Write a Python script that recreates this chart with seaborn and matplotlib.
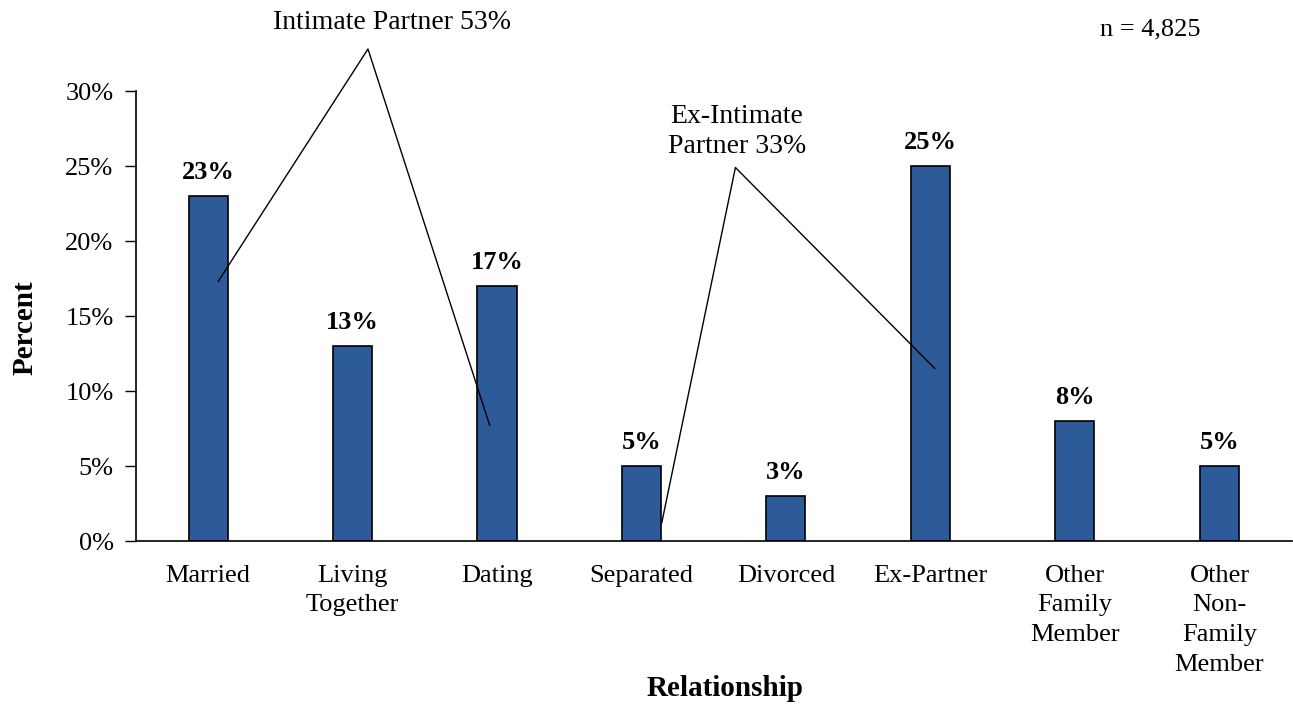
import matplotlib
matplotlib.use("Agg")
import matplotlib.pyplot as plt
import seaborn as sns
import pandas as pd
import numpy as np

categories = ["Married", "Living\nTogether", "Dating", "Separated", "Divorced",
              "Ex-Partner", "Other\nFamily\nMember", "Other\nNon-\nFamily\nMember"]
percents = [23, 13, 17, 5, 3, 25, 8, 5]
yticks = [0, 5, 10, 15, 20, 25, 30]

sns.set_style("white")
plt.rcParams['font.family'] = ['Liberation Serif', 'DejaVu Serif']
plt.rcParams['text.color'] = 'black'
plt.rcParams['xtick.color'] = 'black'
plt.rcParams['ytick.color'] = 'black'
plt.rcParams['axes.labelcolor'] = 'black'

df = pd.DataFrame({"Relationship": categories, "Percent": percents})

fig = plt.figure(figsize=(12.93, 7.06), dpi=100)
ax = fig.add_axes([0.105, 0.2337, 0.894, 0.6374])
sns.barplot(data=df, x="Relationship", y="Percent", ax=ax, color="#2D5A98",
            width=0.27, edgecolor="black", linewidth=1.2, saturation=1)

ax.set_xlim(-0.5, 7.5)
ax.set_ylim(0, 30)
ax.set_yticks(yticks)
ax.set_yticklabels([f"{v}%" for v in yticks], fontsize=19)
ax.set_xticks(range(len(categories)))
ax.set_xticklabels(categories, fontsize=19, linespacing=1.45)
ax.set_xticks(np.arange(-0.5, 8, 1), minor=True)
ax.tick_params(axis='x', which='major', length=0, pad=17)
ax.tick_params(axis='x', which='minor', length=7, width=1, direction='out', color='black')
ax.tick_params(axis='y', length=8, width=1, direction='out', color='black', left=True, pad=8)
for s in ['top', 'right']:
    ax.spines[s].set_visible(False)
for s in ['left', 'bottom']:
    ax.spines[s].set_color('black')
    ax.spines[s].set_linewidth(1.2)

ax.set_xlabel("Relationship", fontsize=21, fontweight='bold')
ax.set_ylabel("Percent", fontsize=21, fontweight='bold')
ax.xaxis.set_label_coords(0.51, -0.297)
ax.yaxis.set_label_coords(-0.084, 0.473)

for i, v in enumerate(percents):
    ax.text(i, v + 0.8, f"{v}%", ha='center', va='bottom', fontsize=19, fontweight='bold')

ax.plot([0.07, 1.107, 1.95], [17.3, 32.8, 7.7], color='black', lw=1, clip_on=False)
ax.text(1.27, 34.6, "Intimate Partner 53%", ha='center', va='center', fontsize=20, clip_on=False)
ax.plot([3.14, 3.65, 5.03], [1.2, 24.9, 11.5], color='black', lw=1, clip_on=False)
ax.text(3.66, 27.3, "Ex-Intimate\nPartner 33%", ha='center', va='center', fontsize=20,
        linespacing=1.25)
ax.text(6.52, 34.1, "n = 4,825", ha='center', va='center', fontsize=19, clip_on=False)

fig.savefig("out.png", dpi=100)
